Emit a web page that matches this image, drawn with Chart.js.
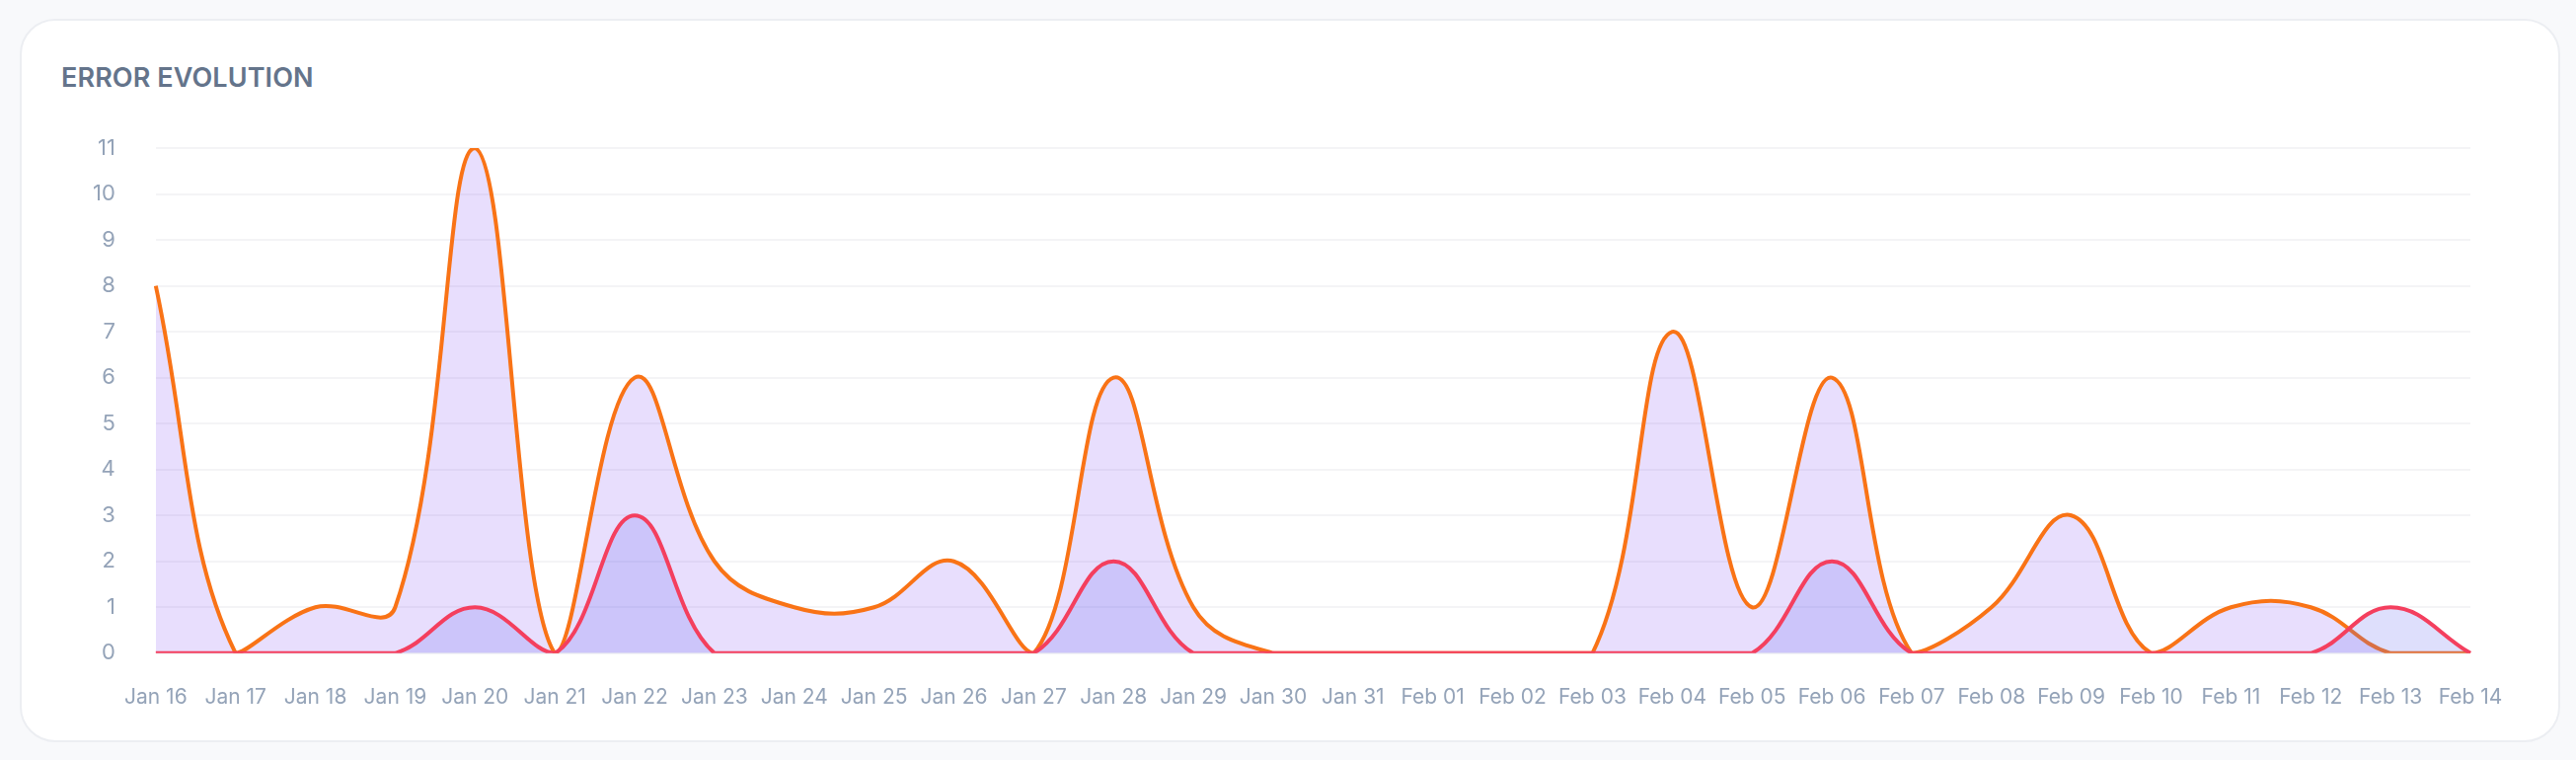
<!DOCTYPE html>
<html>
<head>
<meta charset="utf-8">
<script src="https://cdn.jsdelivr.net/npm/chart.js@4.4.1/dist/chart.umd.min.js"></script>
<style>
  html, body { margin: 0; padding: 0; }
  body { width: 2610px; height: 770px; background: #f8f9fb; position: relative; overflow: hidden; font-family: Inter, sans-serif; }
  .card { position: absolute; left: 20px; top: 19px; width: 2570px; height: 729px; background: #fff; border: 2px solid #eceef2; border-radius: 36px; }
  .title { position: absolute; left: 62px; top: 65px; font-size: 27px; line-height: 27px; font-weight: 600; color: #64748b; letter-spacing: 0.1px; }
  .wrap { position: absolute; left: 0; top: 0; width: 2610px; height: 770px; }
</style>
</head>
<body>
<div class="card"></div>
<div class="title">ERROR EVOLUTION</div>
<div class="wrap"><canvas id="chart"></canvas></div>
<script>
var days = ['Jan 16', 'Jan 17', 'Jan 18', 'Jan 19', 'Jan 20', 'Jan 21', 'Jan 22', 'Jan 23', 'Jan 24', 'Jan 25',
    'Jan 26', 'Jan 27', 'Jan 28', 'Jan 29', 'Jan 30', 'Jan 31', 'Feb 01', 'Feb 02', 'Feb 03', 'Feb 04',
    'Feb 05', 'Feb 06', 'Feb 07', 'Feb 08', 'Feb 09', 'Feb 10', 'Feb 11', 'Feb 12', 'Feb 13', 'Feb 14'];

// all errors per day
var allErrors = [8, 0, 1, 1, 11, 0, 6, 2, 1, 1,
    2, 0, 6, 1, 0, 0, 0, 0, 0, 7,
    1, 6, 0, 1, 3, 0, 1, 1, 0, 0];

// critical errors per day
var criticalErrors = [0, 0, 0, 0, 1, 0, 3, 0, 0, 0,
    0, 0, 2, 0, 0, 0, 0, 0, 0, 0,
    0, 2, 0, 0, 0, 0, 0, 0, 1, 0];

var yTicks = [0, 1, 2, 3, 4, 5, 6, 7, 8, 9, 10, 11];

Chart.defaults.font.family = 'Inter, sans-serif';

var ctx = document.getElementById('chart');

var errorChart = new Chart(ctx, {
    type: 'line',
    data: {
        labels: days,
        datasets: [{
            label: 'Critical',
            data: criticalErrors,
            borderColor: '#f43f5e',
            backgroundColor: 'rgba(99, 102, 241, 0.21)',
            fill: 'origin'
        }, {
            label: 'Errors',
            data: allErrors,
            borderColor: '#f97316',
            backgroundColor: 'rgba(139, 92, 246, 0.2)',
            fill: 'origin'
        }]
    },
    options: {
        responsive: true,
        maintainAspectRatio: false,
        animation: false,
        devicePixelRatio: 1,
        layout: {
            padding: { left: 53, top: 150, right: 107, bottom: 19 }
        },
        elements: {
            line: { tension: 0.4, borderWidth: 4 },
            point: { radius: 0 }
        },
        plugins: {
            legend: { display: false },
            tooltip: { enabled: false }
        },
        scales: {
            x: {
                grid: { display: false, drawTicks: false },
                border: { display: false },
                ticks: {
                    color: '#94a3b8',
                    font: { size: 21 },
                    padding: 32,
                    autoSkip: false,
                    maxRotation: 0
                }
            },
            y: {
                min: 0,
                max: 11,
                grid: { color: '#f4f4f6', lineWidth: 2, drawTicks: false },
                border: { display: false },
                afterBuildTicks: function(axis) {
                    axis.ticks = yTicks.map(function(v) { return { value: v }; });
                },
                ticks: {
                    color: '#94a3b8',
                    font: { size: 22 },
                    padding: 41
                }
            }
        }
    }
});
</script>
</body>
</html>
